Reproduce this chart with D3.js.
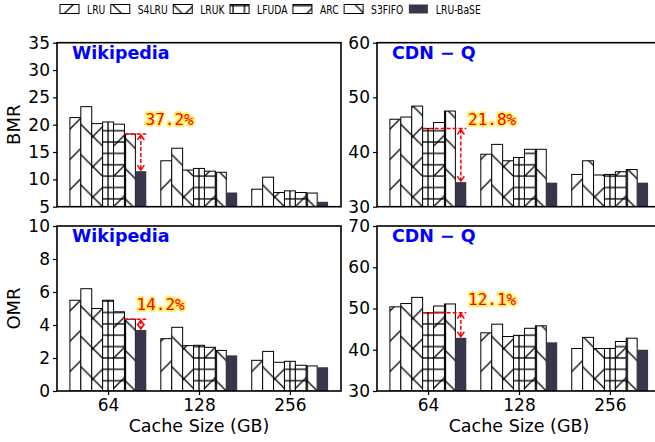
<!DOCTYPE html>
<html lang="en">
<head>
<meta charset="UTF-8"/>
<title>BMR / OMR</title>
<script src="https://d3js.org/d3.v7.min.js"></script>
<style>
  body { margin: 0; background: #fff; }
  svg { display: block; font-family: "DejaVu Sans", sans-serif; }
</style>
</head>
<body>
<script>
// ---- data ----
var algos = ["LRU", "S4LRU", "LRUK", "LFUDA", "ARC", "S3FIFO", "LRU-BaSE"];
var cacheSizes = ["64", "128", "256"];

// rows = cache size, columns = algos
var wikiBMR = [
  [21.3, 23.3, 20.2, 20.5, 20.1, 18.3, 11.5],
  [13.4, 15.7, 11.7, 12.0, 11.5, 11.3, 7.6],
  [8.2, 10.4, 7.6, 7.9, 7.6, 7.5, 5.9]
];
var cdnBMR = [
  [46.0, 46.4, 48.4, 44.3, 45.4, 47.5, 34.5],
  [39.6, 41.4, 38.4, 39.0, 40.5, 40.5, 34.4],
  [35.9, 38.4, 35.8, 35.9, 36.4, 36.8, 34.4]
];
var wikiOMR = [
  [5.5, 6.2, 5.0, 5.5, 4.8, 4.35, 3.7],
  [3.17, 3.86, 2.75, 2.77, 2.65, 2.46, 2.16],
  [1.86, 2.4, 1.74, 1.8, 1.56, 1.52, 1.44]
];
var cdnOMR = [
  [50.4, 51.2, 52.7, 49.0, 50.6, 51.1, 42.9],
  [44.1, 46.2, 43.2, 43.5, 45.2, 45.8, 41.8],
  [40.3, 43.0, 40.3, 40.3, 42.0, 42.8, 40.0]
];
var wikiBMRTicks = [5, 10, 15, 20, 25, 30, 35];
var cdnBMRTicks = [30, 40, 50, 60];
var wikiOMRTicks = [0, 2, 4, 6, 8, 10];
var cdnOMRTicks = [30, 40, 50, 60, 70];
var gains = ["37.2%", "21.8%", "14.2%", "12.1%"];

// ---- layout ----
var W = 655, H = 442;
var cols = [{x0: 57, x1: 341}, {x0: 377, x1: 661}];
var rows = [{y0: 42.7, y1: 206.7}, {y0: 226, y1: 391}];
var xDomain = [-0.562, 2.562];
var barW = 0.12;
var unit = (cols[0].x1 - cols[0].x0) / (xDomain[1] - xDomain[0]);
var P = unit / 3, G = unit / 8;
var baseColor = "#38364a";
// label offset (px) from the BaSE bar centre / best-baseline level
var annotPos = [[4.7, -9], [7.2, -3.7], [-4.3, -9.3], [7.2, -7.6]];

var panels = [
  {col: 0, row: 0, title: "Wikipedia", ylab: "BMR", vals: wikiBMR, ticks: wikiBMRTicks, gain: gains[0]},
  {col: 1, row: 0, title: "CDN \u2212 Q", ylab: null, vals: cdnBMR, ticks: cdnBMRTicks, gain: gains[1]},
  {col: 0, row: 1, title: "Wikipedia", ylab: "OMR", vals: wikiOMR, ticks: wikiOMRTicks, gain: gains[2]},
  {col: 1, row: 1, title: "CDN \u2212 Q", ylab: null, vals: cdnOMR, ticks: cdnOMRTicks, gain: gains[3]}
];

// hatch parts per algorithm
var hatches = [["ne"], ["nw"], ["ne", "nw"], ["h", "v"], ["h", "ne"], ["v3", "nw"], []];

var svg = d3.select("body").append("svg").attr("width", W).attr("height", H);
var defs = svg.append("defs");

function pattern(id, w, h, x, d) {
  var p = defs.append("pattern").attr("id", id)
    .attr("patternUnits", "userSpaceOnUse")
    .attr("width", w).attr("height", h).attr("x", x).attr("y", 0);
  p.append("path").attr("d", d)
    .attr("stroke", "#000").attr("stroke-width", 1.3).attr("fill", "none");
}

cols.forEach(function(c, ci) {
  var t0 = c.x0 + (0 - xDomain[0]) * unit;
  pattern("ne" + ci, P, P, t0, "M0," + P + "L" + P + ",0M-2,2L2,-2M" + (P - 2) + "," + (P + 2) + "L" + (P + 2) + "," + (P - 2));
  pattern("nw" + ci, P, P, t0, "M0,0L" + P + "," + P + "M-2," + (P - 2) + "L2," + (P + 2) + "M" + (P - 2) + ",-2L" + (P + 2) + ",2");
  pattern("h" + ci, G, G, 0, "M0," + (G / 2) + "H" + G);
  pattern("v" + ci, G, G, t0 - G / 2, "M" + (G / 2) + ",0V" + G);
  pattern("v3" + ci, P, P, t0 + (2 - 0.5) * barW * unit + 1 - P / 2, "M" + (P / 2) + ",0V" + P);
});

function drawBar(g, x, y, w, h, k, ci) {
  if (k === algos.length - 1) {
    g.append("rect").attr("x", x).attr("y", y).attr("width", w).attr("height", h)
      .attr("fill", baseColor);
    return;
  }
  g.append("rect").attr("x", x).attr("y", y).attr("width", w).attr("height", h).attr("fill", "#fff");
  hatches[k].forEach(function(hp) {
    g.append("rect").attr("x", x).attr("y", y).attr("width", w).attr("height", h)
      .attr("fill", "url(#" + hp + ci + ")");
  });
  g.append("rect").attr("x", x).attr("y", y).attr("width", w).attr("height", h)
    .attr("fill", "none").attr("stroke", "#000").attr("stroke-width", 1);
}

panels.forEach(function(p, pi) {
  var c = cols[p.col], r = rows[p.row];
  var x = d3.scaleLinear().domain(xDomain).range([c.x0, c.x1]);
  var y = d3.scaleLinear().domain(d3.extent(p.ticks)).range([r.y1, r.y0]);
  var g = svg.append("g");
  var clipId = "clip" + pi;
  defs.append("clipPath").attr("id", clipId).append("rect")
    .attr("x", c.x0).attr("y", r.y0).attr("width", c.x1 - c.x0).attr("height", r.y1 - r.y0);
  var bars = g.append("g").attr("clip-path", "url(#" + clipId + ")");

  p.vals.forEach(function(row, i) {
    row.forEach(function(v, k) {
      var xl = x(i + (k - 3) * barW - barW / 2);
      var xr = x(i + (k - 3) * barW + barW / 2);
      drawBar(bars, xl, y(v), xr - xl, y(y.domain()[0]) - y(v), k, p.col);
    });
  });

  // frame
  g.append("rect").attr("x", c.x0).attr("y", r.y0).attr("width", c.x1 - c.x0).attr("height", r.y1 - r.y0)
    .attr("fill", "none").attr("stroke", "#000").attr("stroke-width", 1.6);

  var yAxis = g.append("g").attr("transform", "translate(" + c.x0 + ",0)")
    .call(d3.axisLeft(y).tickValues(p.ticks).tickSize(4).tickPadding(3).tickSizeOuter(0));
  yAxis.select(".domain").remove();
  yAxis.selectAll("text").attr("font-size", 17).attr("font-family", "DejaVu Sans").attr("fill", "#000");
  yAxis.selectAll("line").attr("stroke-width", 1.2);

  if (p.row === 1) {
    var xAxis = g.append("g").attr("transform", "translate(0," + r.y1 + ")")
      .call(d3.axisBottom(x).tickValues([0, 1, 2]).tickFormat(function(d) { return cacheSizes[d]; })
        .tickSize(4).tickPadding(4).tickSizeOuter(0));
    xAxis.select(".domain").remove();
    xAxis.selectAll("text").attr("font-size", 17).attr("font-family", "DejaVu Sans").attr("fill", "#000");
    xAxis.selectAll("line").attr("stroke-width", 1.2);
    g.append("text").attr("x", (c.x0 + c.x1) / 2).attr("y", 432)
      .attr("text-anchor", "middle").attr("font-size", 17.5).text("Cache Size (GB)");
  }

  if (p.ylab) {
    g.append("text").attr("transform", "translate(20," + ((r.y0 + r.y1) / 2) + ") rotate(-90)")
      .attr("text-anchor", "middle").attr("font-size", 18).text(p.ylab);
  }

  g.append("text").attr("x", c.x0 + 15).attr("y", r.y0 + 16)
    .attr("font-size", 17.5).attr("font-weight", "bold").attr("fill", "#0000ff").text(p.title);

  // annotation: best baseline vs LRU-BaSE at the smallest cache size
  var first = p.vals[0];
  var baseVals = first.slice(0, algos.length - 1);
  var best = d3.minIndex(baseVals);
  var bestVal = baseVals[best];
  var baseVal = first[algos.length - 1];
  var bx = x((algos.length - 1 - 3) * barW);
  var lx0 = x((best - 3) * barW - barW / 2);
  var lx1 = x((algos.length - 1 - 3) * barW + barW / 2);
  var yb = y(bestVal), ys = y(baseVal);
  g.append("line").attr("x1", lx0).attr("x2", lx1).attr("y1", yb).attr("y2", yb)
    .attr("stroke", "#ff0000").attr("stroke-width", 1.5).attr("stroke-dasharray", "4,2");
  g.append("line").attr("x1", bx).attr("x2", bx).attr("y1", yb + 1).attr("y2", ys - 1)
    .attr("stroke", "#ff0000").attr("stroke-width", 1.5).attr("stroke-dasharray", "4,2");
  if (ys - yb > 8) {
    g.append("path").attr("d", "M" + (bx - 3.5) + "," + (yb + 6) + "L" + bx + "," + (yb + 1) + "L" + (bx + 3.5) + "," + (yb + 6))
      .attr("fill", "none").attr("stroke", "#ff0000").attr("stroke-width", 1.5);
    g.append("path").attr("d", "M" + (bx - 3.5) + "," + (ys - 6) + "L" + bx + "," + (ys - 1) + "L" + (bx + 3.5) + "," + (ys - 6))
      .attr("fill", "none").attr("stroke", "#ff0000").attr("stroke-width", 1.5);
  }
  g.append("text").attr("x", bx + annotPos[pi][0]).attr("y", yb + annotPos[pi][1])
    .attr("font-family", "DejaVu Sans Mono").attr("font-size", 16)
    .attr("fill", "#ff0000").attr("stroke", "#ffee33").attr("stroke-width", 4)
    .attr("stroke-opacity", 0.75).attr("stroke-linejoin", "round")
    .attr("paint-order", "stroke").text(p.gain);
});

// ---- legend (narrow text) ----
var leg = svg.append("g");
var lx = 60, squeeze = 0.72;
algos.forEach(function(a, k) {
  drawBar(leg, lx, 4.5, 19, 9, k, 0);
  var t = leg.append("text")
    .attr("transform", "translate(" + (lx + 27) + ",13.6) scale(" + squeeze + ",1)")
    .attr("font-size", 12.8).text(a);
  lx = lx + 27 + t.node().getComputedTextLength() * squeeze + 5.5;
});
</script>
</body>
</html>
